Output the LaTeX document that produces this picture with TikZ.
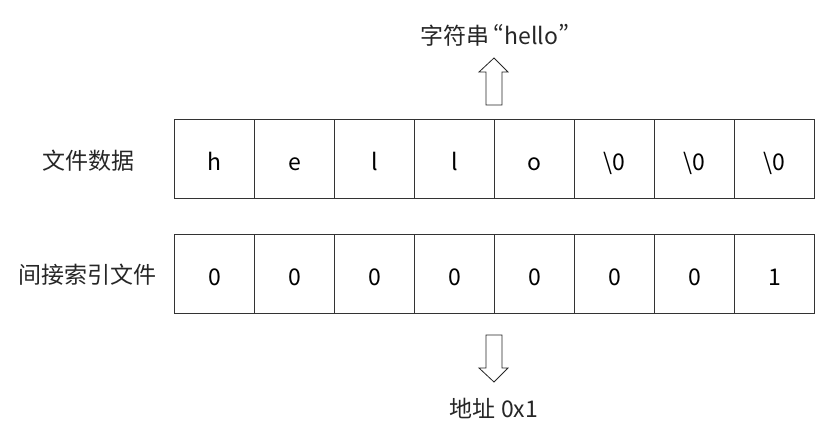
\documentclass[tikz,border=0pt]{standalone}
\usepackage{fontspec}
\setmainfont{Noto Sans CJK SC}
\newcommand{\pq}[1]{{\addfontfeature{RawFeature=+pwid}#1}}
\begin{document}
\begin{tikzpicture}[x=1pt,y=-1pt,
  cell/.style={draw=black!80, line width=0.8pt, minimum width=80pt, minimum height=79pt, inner sep=0pt, anchor=north west, text height=23pt, text depth=0pt, font=\fontsize{23}{26}\selectfont},
  lbl/.style={font=\fontsize{23}{26}\selectfont, text=black!85},
  fatarrow/.style={draw=black!85, line width=0.8pt, fill=white, line join=miter}]
\useasboundingbox (0,0) rectangle (829,441);
% top row
\foreach \t [count=\i from 0] in {h,e,l,l,o,\textbackslash 0,\textbackslash 0,\textbackslash 0}
  \node[cell] (a\i) at (174+80*\i,119) {\t};
% bottom row
\foreach \t [count=\i from 0] in {0,0,0,0,0,0,0,1}
  \node[cell] (b\i) at (174+80*\i,234) {\t};
\node[lbl] (l1) at (88,161) {文件数据};
\node[lbl] (l2) at (87,275) {间接索引文件};
\node[lbl] (top) at (495,35) {字符串\,\pq{“}hello\pq{”}};
\node[lbl] (bot) at (494,408) {地址 0x1};
% up arrow
\draw[fatarrow] (486,105) -- (486,72) -- (479,72) -- (494,58) -- (508,72) -- (502,72) -- (502,105) -- cycle;
% down arrow
\draw[fatarrow] (486,335) -- (486,368) -- (479,368) -- (494,382) -- (508,368) -- (502,368) -- (502,335) -- cycle;
\end{tikzpicture}
\end{document}
